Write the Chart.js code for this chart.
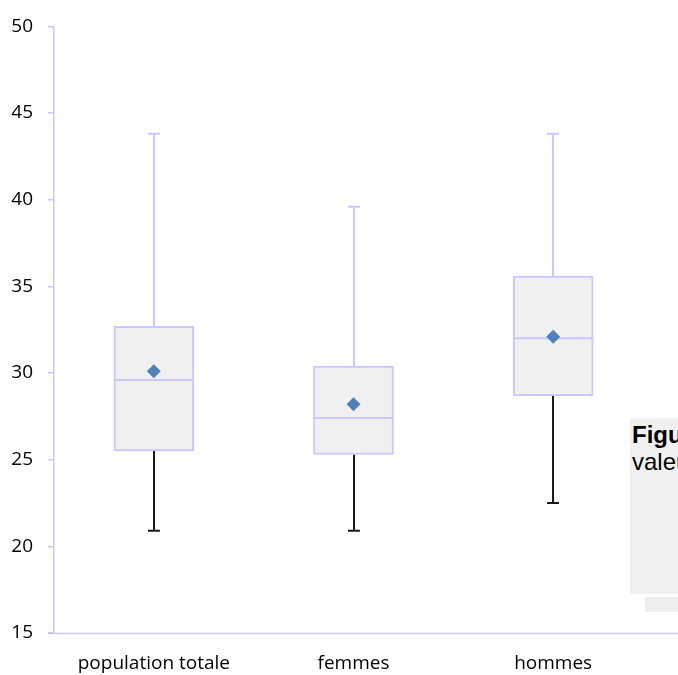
<!DOCTYPE html>
<html>
<head>
<meta charset="utf-8">
<script src="https://cdn.jsdelivr.net/npm/chart.js@4.4.1/dist/chart.umd.min.js"></script>
<style>
  html, body { margin: 0; padding: 0; background: #fff; overflow: hidden; width: 678px; height: 675px; }
  #wrap { position: relative; width: 678px; height: 675px; }
  #chart { display: block; }
  .note {
    position: absolute; left: 630px; top: 418px; width: 220px; height: 176px;
    background: #f0f0f0; font-family: "Liberation Sans", Arial, sans-serif;
    font-size: 24px; line-height: 27px; color: #000; padding: 3px 0 0 2px; box-sizing: border-box;
    white-space: nowrap; overflow: hidden;
  }
  .note b { font-weight: bold; }
  .note-strip { position: absolute; left: 645px; top: 597px; width: 120px; height: 15px; background: #eeeeee; }
</style>
</head>
<body>
<div id="wrap">
  <canvas id="chart" width="678" height="675"></canvas>
  <div class="note"><b>Figure</b><br>valeurs</div>
  <div class="note-strip"></div>
</div>
<script>
// Distribution summary per group
const categories = ['population totale', 'femmes', 'hommes'];
const minValues    = [20.9, 20.9, 22.5];
const q1Values     = [25.5, 25.3, 28.7];
const medianValues = [29.6, 27.4, 32.0];
const q3Values     = [32.7, 30.4, 35.6];
const maxValues    = [43.8, 39.6, 43.8];
const meanValues   = [30.1, 28.2, 32.1];
const yTicks = [15, 20, 25, 30, 35, 40, 45, 50];

const LAVENDER = '#c8c8ff';
const BOX_FILL = '#f0f0f0';
const MEAN_BLUE = '#4f81bd';
const FONT = { family: '"Open Sans", sans-serif', size: 19 };

// Whiskers, caps and median lines drawn from the data through the chart scales
const boxParts = {
  id: 'boxParts',
  beforeDatasetsDraw(chart) {
    const { ctx, scales: { x, y } } = chart;
    const cap = 6;
    ctx.save();
    ctx.lineWidth = 2;
    categories.forEach((c, i) => {
      const cx = Math.round(x.getPixelForValue(i));
      // upper whisker
      ctx.strokeStyle = LAVENDER;
      ctx.beginPath();
      ctx.moveTo(cx, y.getPixelForValue(q3Values[i]));
      ctx.lineTo(cx, y.getPixelForValue(maxValues[i]));
      ctx.moveTo(cx - cap, y.getPixelForValue(maxValues[i]));
      ctx.lineTo(cx + cap, y.getPixelForValue(maxValues[i]));
      ctx.stroke();
      // lower whisker
      ctx.strokeStyle = '#1a1a1a';
      ctx.beginPath();
      ctx.moveTo(cx, y.getPixelForValue(q1Values[i]));
      ctx.lineTo(cx, y.getPixelForValue(minValues[i]));
      ctx.moveTo(cx - cap, y.getPixelForValue(minValues[i]));
      ctx.lineTo(cx + cap, y.getPixelForValue(minValues[i]));
      ctx.stroke();
    });
    ctx.restore();
  },
  afterDatasetDraw(chart, args) {
    if (args.index !== 0) return;
    const { ctx, scales: { y } } = chart;
    const meta = chart.getDatasetMeta(0);
    ctx.save();
    ctx.lineWidth = 2;
    ctx.strokeStyle = LAVENDER;
    meta.data.forEach((bar, i) => {
      const half = bar.width / 2;
      const my = y.getPixelForValue(medianValues[i]);
      ctx.beginPath();
      ctx.moveTo(bar.x - half, my);
      ctx.lineTo(bar.x + half, my);
      ctx.stroke();
    });
    ctx.restore();
  },
  afterDraw(chart) {
    // horizontal axis line runs on to the right edge
    const { ctx, chartArea, scales: { y } } = chart;
    const by = Math.round(y.getPixelForValue(15)) + 0.5;
    ctx.save();
    ctx.strokeStyle = LAVENDER;
    ctx.lineWidth = 1.5;
    ctx.beginPath();
    ctx.moveTo(chartArea.left - 6, by);
    ctx.lineTo(chart.width, by);
    ctx.stroke();
    ctx.restore();
  }
};

new Chart(document.getElementById('chart'), {
  type: 'bar',
  data: {
    labels: categories,
    datasets: [
      {
        label: 'box',
        data: categories.map((c, i) => [q1Values[i], q3Values[i]]),
        backgroundColor: BOX_FILL,
        borderColor: LAVENDER,
        borderWidth: 2,
        borderSkipped: false,
        barThickness: 80,
        order: 2
      },
      {
        label: 'moyenne',
        type: 'line',
        data: meanValues,
        showLine: false,
        pointStyle: 'rectRot',
        pointRadius: 7,
        pointHoverRadius: 7,
        backgroundColor: MEAN_BLUE,
        borderColor: MEAN_BLUE,
        borderWidth: 0,
        order: 1
      }
    ]
  },
  options: {
    responsive: false,
    animation: false,
    layout: { padding: { left: 0, top: 23, right: 25, bottom: 0 } },
    plugins: { legend: { display: false }, tooltip: { enabled: false } },
    scales: {
      x: {
        grid: { display: false, drawTicks: false },
        border: { display: false },
        ticks: { color: '#000', font: FONT, padding: 19, maxRotation: 0 },
        afterFit(s) { s.height = 42; }
      },
      y: {
        min: 15, max: 50,
        afterBuildTicks(s) { s.ticks = yTicks.map(v => ({ value: v })); },
        grid: { drawOnChartArea: false, drawTicks: true, tickLength: 6, color: LAVENDER, lineWidth: 1.5 },
        border: { display: true, color: LAVENDER, width: 1.5 },
        ticks: { color: '#000', font: FONT, padding: 15 },
        afterFit(s) { s.width = 54; }
      }
    }
  },
  plugins: [boxParts]
});
</script>
</body>
</html>
